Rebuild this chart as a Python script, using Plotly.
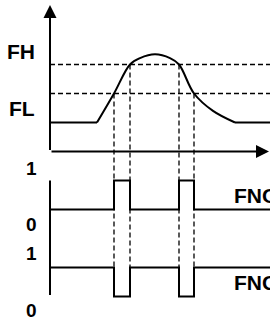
import plotly.graph_objects as go

# ---- data (time units, frequency units) ----
curve_t = [4.7, 6.4, 8.0, 9.0, 10.5, 12.0, 12.9, 14.4, 16.3, 18.5]
curve_f = [1.0, 2.0, 3.0, 3.22, 3.35, 3.22, 3.0, 2.0, 1.4, 1.0]
base_t_left = [0, 4.7]
base_t_right = [18.5, 22]
base_f = 1.0

FL = 2.0
FH = 3.0
cross_t = [6.4, 8.0, 12.9, 14.4]
cross_level = [FL, FH, FH, FL]

switch_t = [0, 6.4, 8.0, 12.9, 14.4, 22]
fno_state = [0, 1, 0, 1, 0, 0]
fnc_state = [1, 0, 1, 0, 1, 1]
FNO_BASE = -2
FNC_BASE = -5

labels_bottom = ["1", "0", "1", "0"]

BLACK = "#000000"
FONT = "Liberation Sans Narrow, Arial Narrow, Liberation Sans, Arial, sans-serif"

fig = go.Figure()

# frequency curve
fig.add_trace(go.Scatter(x=base_t_left, y=[base_f, base_f], mode="lines",
                         line=dict(color=BLACK, width=2), hoverinfo="skip"))
fig.add_trace(go.Scatter(x=curve_t, y=curve_f, mode="lines",
                         line=dict(color=BLACK, width=2, shape="spline", smoothing=1.0),
                         hoverinfo="skip"))
fig.add_trace(go.Scatter(x=base_t_right, y=[base_f, base_f], mode="lines",
                         line=dict(color=BLACK, width=2), hoverinfo="skip"))

# threshold dashed lines
for lvl in (FH, FL):
    fig.add_trace(go.Scatter(x=[0, 22], y=[lvl, lvl], mode="lines",
                             line=dict(color=BLACK, width=1.3, dash="5px,3px"),
                             hoverinfo="skip"))
# vertical dashed lines
for t, lvl in zip(cross_t, cross_level):
    fig.add_trace(go.Scatter(x=[t, t], y=[lvl, FNC_BASE], mode="lines",
                             line=dict(color=BLACK, width=1.3, dash="5px,3px"),
                             hoverinfo="skip"))

# digital outputs
fig.add_trace(go.Scatter(x=switch_t, y=[FNO_BASE + s for s in fno_state], mode="lines",
                         line=dict(color=BLACK, width=2, shape="hv"), hoverinfo="skip"))
fig.add_trace(go.Scatter(x=switch_t, y=[FNC_BASE + s for s in fnc_state], mode="lines",
                         line=dict(color=BLACK, width=2, shape="hv"), hoverinfo="skip"))

# left axis line for digital section
fig.add_shape(type="line", x0=0, x1=0, y0=-1.0, y1=-4.95,
              line=dict(color=BLACK, width=2))

# axes arrows
fig.add_annotation(x=0, y=5.05, ax=0, ay=0, axref="x", ayref="y", xref="x", yref="y",
                   text="", showarrow=True, arrowhead=2, arrowsize=1.3, arrowwidth=2,
                   arrowcolor=BLACK, standoff=0, startstandoff=0)
fig.add_annotation(x=21.9, y=0, ax=0, ay=0, axref="x", ayref="y", xref="x", yref="y",
                   text="", showarrow=True, arrowhead=2, arrowsize=1.3, arrowwidth=2,
                   arrowcolor=BLACK, standoff=0, startstandoff=0)

# labels
big = dict(family=FONT, size=21, color=BLACK)
small = dict(family=FONT, size=19, color=BLACK)
fig.add_annotation(x=-2.9, y=3.45, text="<b>FH</b>", showarrow=False, font=big,
                   xanchor="center", yanchor="middle")
fig.add_annotation(x=-2.85, y=1.48, text="<b>FL</b>", showarrow=False, font=big,
                   xanchor="center", yanchor="middle")
for txt, yv in zip(labels_bottom, [-0.59, -2.53, -3.5, -5.47]):
    fig.add_annotation(x=-1.9, y=yv, text="<b>" + txt + "</b>", showarrow=False,
                       font=small, xanchor="center", yanchor="middle")
fig.add_annotation(x=18.2, y=-1.52, text="<b>FNO</b>", showarrow=False, font=big,
                   xanchor="left", yanchor="middle")
fig.add_annotation(x=18.2, y=-4.53, text="<b>FNC</b>", showarrow=False, font=big,
                   xanchor="left", yanchor="middle")

fig.update_layout(
    width=270, height=319,
    margin=dict(l=0, r=0, t=0, b=0),
    paper_bgcolor="white", plot_bgcolor="white",
    showlegend=False,
    xaxis=dict(range=[-5, 22], visible=False, fixedrange=True),
    yaxis=dict(range=[-5.776, 5.224], visible=False, fixedrange=True),
)

fig.write_html("out.html", config=dict(displayModeBar=False),
               post_script="document.body.style.margin='0px';document.body.style.overflow='hidden';")
